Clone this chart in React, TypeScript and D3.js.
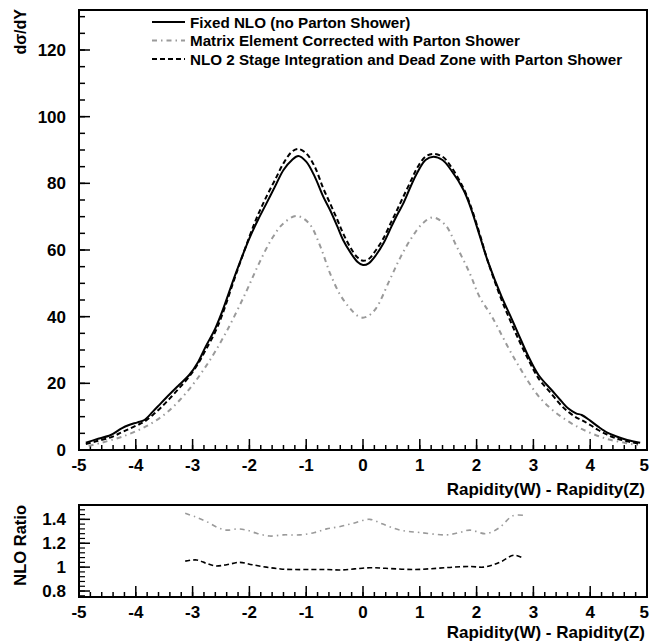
import React from "react";
import * as d3 from "d3";

// ---- Data ----
const nloX = [-4.88, -4.7, -4.44, -4.25, -4.12, -3.97, -3.85, -3.7, -3.56, -3.4, -3.24, -3.06, -2.9, -2.77, -2.6, -2.48, -2.24, -2.0, -1.85, -1.7, -1.55, -1.4, -1.25, -1.14, -1.0, -0.85, -0.7, -0.58, -0.45, -0.35, -0.23, -0.1, 0, 0.1, 0.23, 0.36, 0.5, 0.6, 0.71, 0.85, 0.95, 1.1, 1.24, 1.4, 1.55, 1.77, 1.9, 2.06, 2.2, 2.44, 2.6, 2.73, 2.9, 3.09, 3.32, 3.5, 3.61, 3.75, 3.85, 4.0, 4.14, 4.3, 4.44, 4.65, 4.88];
const fixedNLO = [2.2, 3.2, 4.5, 6.5, 7.5, 8.3, 9, 11.5, 14, 16.8, 19.5, 22.5, 26.5, 31, 36.5, 41.5, 53, 63.5, 69, 74, 79, 84, 87, 88.2, 86.5, 82, 76, 72, 67, 63, 59.5, 56.5, 55.5, 56, 58.5, 62, 67, 70.5, 74, 79.5, 83, 87, 88, 87, 84, 78, 72.5, 64, 56.5, 46, 40, 35, 28.5, 22.5, 18, 14.5, 12.5, 11, 10.5, 8.8, 7, 5.2, 4.2, 3, 2.2];
const nlo2Stage = [1.8, 2.6, 3.8, 5.3, 6.3, 7.5, 8.5, 10.5, 12.7, 15.5, 18.5, 22, 26, 30, 35.5, 40.5, 52.5, 64, 70.5, 76, 81, 86, 89.5, 90.3, 89, 85, 78.5, 74, 69, 65, 61, 57.8, 56.8, 57.3, 60, 63.5, 68.5, 72, 76, 81, 84.5, 88, 88.8, 88, 85, 78.5, 73, 64.5, 56.5, 45, 38.5, 33.5, 27.5, 21.5, 16.8, 13.2, 11.5, 9.8, 9, 7.5, 6, 4.6, 3.6, 2.6, 1.8];

const meX = [-4.83, -4.6, -4.24, -3.83, -3.47, -3.12, -2.77, -2.42, -2.07, -1.83, -1.6, -1.4, -1.17, -0.95, -0.75, -0.58, -0.4, -0.23, -0.1, 0, 0.1, 0.23, 0.47, 0.65, 0.85, 1.05, 1.23, 1.45, 1.65, 1.88, 2.05, 2.27, 2.68, 3.15, 3.67, 4.26, 4.84];
const meCorrected = [1.2, 2.2, 4, 7, 11, 17, 25, 35, 47, 56, 63.5, 68, 70.2, 68, 61, 53, 46.5, 42.5, 40.3, 39.7, 40.3, 42.5, 51, 57.5, 63.5, 68, 69.8, 67.5, 61, 53, 46, 40, 27, 15, 8, 3.5, 1.5];

const ratioMeX = [-3.13, -2.95, -2.75, -2.55, -2.4, -2.2, -2.05, -1.85, -1.64, -1.4, -1.11, -0.85, -0.64, -0.4, -0.15, 0.12, 0.35, 0.65, 1.0, 1.47, 1.7, 1.88, 2.17, 2.4, 2.64, 2.88];
const ratioMe = [1.45, 1.42, 1.38, 1.33, 1.31, 1.32, 1.31, 1.28, 1.26, 1.27, 1.27, 1.29, 1.32, 1.34, 1.37, 1.4, 1.36, 1.31, 1.29, 1.27, 1.29, 1.31, 1.28, 1.33, 1.43, 1.43];

const ratioNloX = [-3.13, -2.93, -2.75, -2.6, -2.4, -2.17, -1.95, -1.7, -1.45, -1.23, -0.9, -0.64, -0.4, -0.15, 0.12, 0.4, 0.89, 1.3, 1.59, 1.9, 2.12, 2.3, 2.45, 2.65, 2.82];
const ratioNlo = [1.05, 1.06, 1.03, 1.01, 1.02, 1.04, 1.02, 1.0, 0.985, 0.98, 0.98, 0.98, 0.976, 0.985, 0.995, 0.99, 0.98, 0.99, 1.0, 1.005, 1.0, 1.02, 1.05, 1.1, 1.075];

const xTicks = [-5, -4, -3, -2, -1, 0, 1, 2, 3, 4, 5];
const yMainTicks = [0, 20, 40, 60, 80, 100, 120];
const yRatioTicks = [0.8, 1, 1.2, 1.4];
const legendLabels = [
  "Fixed NLO (no Parton Shower)",
  "Matrix Element Corrected with Parton Shower",
  "NLO 2 Stage Integration and Dead Zone with Parton Shower",
];
const xTitle = "Rapidity(W) - Rapidity(Z)";

const FONT = "'Liberation Sans', Arial, Helvetica, sans-serif";
const TF = 17;

export default function App() {
  const L = 79, R = 647;
  const x = d3.scaleLinear().domain([-5, 5]).range([L, R]);
  const yM = d3.scaleLinear().domain([0, 132]).range([450, 10]);
  const yR = d3.scaleLinear().domain([0.75, 1.52]).range([597, 505]);

  const mk = (ys: d3.ScaleLinear<number, number>) =>
    d3.line<[number, number]>()
      .x((d) => x(d[0]))
      .y((d) => ys(d[1]))
      .curve(d3.curveCatmullRom.alpha(0.5));
  const lineM = mk(yM);
  const lineR = mk(yR);
  const zip = (a: number[], b: number[]) => a.map((v, i) => [v, b[i]] as [number, number]);

  const xMinor = d3.range(-5, 5.0001, 0.2).map((v) => +v.toFixed(2));
  const yMainMinor = d3.range(0, 131, 5);
  const yRatioMinor = d3.range(0.76, 1.52, 0.04).map((v) => +v.toFixed(2));

  const xAxis = (y0: number, key: string) => (
    <g key={key}>
      {xMinor.map((v) => (
        <line key={"m" + v} x1={x(v)} x2={x(v)} y1={y0} y2={y0 - 5} stroke="#000" strokeWidth={1.5} />
      ))}
      {xTicks.map((v) => {
        const edge = x(v) + 6 > 649;
        return (
          <g key={v}>
            <line x1={x(v)} x2={x(v)} y1={y0} y2={y0 - 11} stroke="#000" strokeWidth={1.5} />
            <text x={edge ? 649 : x(v)} y={y0 + 21} textAnchor={edge ? "end" : "middle"} fontSize={TF} fontWeight="bold" fontFamily={FONT}>{v}</text>
          </g>
        );
      })}
    </g>
  );

  const legendY = [22, 40.5, 59];
  const styles = [
    { stroke: "#000", dash: undefined as string | undefined },
    { stroke: "#9a9a9a", dash: "5,4,1.5,4" },
    { stroke: "#000", dash: "5,3" },
  ];

  return (
    <svg width={650} height={643} style={{ position: "absolute", left: 0, top: 0, background: "#fff" }}>
      <rect x={0} y={0} width={650} height={643} fill="#fff" />
      {/* Main panel */}
      <rect x={L} y={10} width={R - L} height={440} fill="none" stroke="#000" strokeWidth={2} />
      {yMainMinor.map((v) => (
        <line key={"ym" + v} x1={L} x2={L + 6} y1={yM(v)} y2={yM(v)} stroke="#000" strokeWidth={1.5} />
      ))}
      {yMainTicks.map((v) => (
        <g key={"y" + v}>
          <line x1={L} x2={L + 11} y1={yM(v)} y2={yM(v)} stroke="#000" strokeWidth={1.5} />
          <text x={66} y={yM(v) + 6} textAnchor="end" fontSize={TF} fontWeight="bold" fontFamily={FONT}>{v}</text>
        </g>
      ))}
      {xAxis(450, "xm")}
      <text x={645} y={495} textAnchor="end" fontSize={TF} fontWeight="bold" fontFamily={FONT}>{xTitle}</text>
      <text transform="translate(26,9) rotate(-90)" textAnchor="end" fontSize={16} fontWeight="bold" fontFamily={FONT}>dσ/dY</text>

      <path d={lineM(zip(meX, meCorrected)) || ""} fill="none" stroke={styles[1].stroke} strokeWidth={2} strokeDasharray={styles[1].dash} />
      <path d={lineM(zip(nloX, fixedNLO)) || ""} fill="none" stroke="#000" strokeWidth={2} />
      <path d={lineM(zip(nloX, nlo2Stage)) || ""} fill="none" stroke="#000" strokeWidth={2} strokeDasharray={styles[2].dash} />

      {legendLabels.map((t, i) => (
        <g key={t}>
          <line x1={152} x2={185} y1={legendY[i]} y2={legendY[i]} stroke={styles[i].stroke} strokeWidth={2} strokeDasharray={styles[i].dash} />
          <text x={190} y={legendY[i] + 5.5} fontSize={15.2} fontWeight="bold" fontFamily={FONT}>{t}</text>
        </g>
      ))}

      {/* Ratio panel */}
      <rect x={L} y={505} width={R - L} height={92} fill="none" stroke="#000" strokeWidth={2} />
      {yRatioMinor.map((v) => (
        <line key={"rm" + v} x1={L} x2={L + 6} y1={yR(v)} y2={yR(v)} stroke="#000" strokeWidth={1.2} />
      ))}
      {yRatioTicks.map((v) => (
        <g key={"r" + v}>
          <line x1={L} x2={L + 11} y1={yR(v)} y2={yR(v)} stroke="#000" strokeWidth={1.5} />
          <text x={66} y={yR(v) + 6} textAnchor="end" fontSize={TF} fontWeight="bold" fontFamily={FONT}>{v}</text>
        </g>
      ))}
      {xAxis(597, "xr")}
      <text x={645} y={638} textAnchor="end" fontSize={TF} fontWeight="bold" fontFamily={FONT}>{xTitle}</text>
      <text transform="translate(26,505) rotate(-90)" textAnchor="end" fontSize={16.5} fontWeight="bold" fontFamily={FONT}>NLO Ratio</text>

      <path d={lineR(zip(ratioMeX, ratioMe)) || ""} fill="none" stroke={styles[1].stroke} strokeWidth={1.6} strokeDasharray={styles[1].dash} />
      <path d={lineR(zip(ratioNloX, ratioNlo)) || ""} fill="none" stroke="#000" strokeWidth={1.6} strokeDasharray={styles[2].dash} />
    </svg>
  );
}
